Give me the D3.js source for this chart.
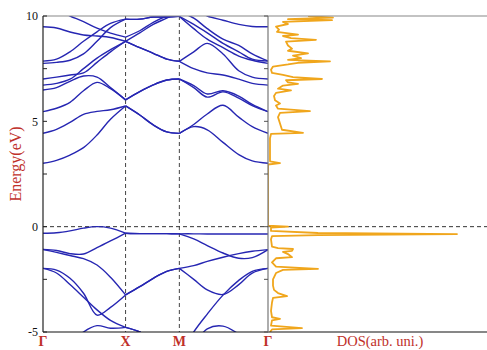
<!DOCTYPE html>
<html><head><meta charset="utf-8">
<script src="https://cdn.jsdelivr.net/npm/d3@7"></script>
<style>body{margin:0;background:#fff}svg{display:block}</style>
</head><body>
<svg id="c" width="487" height="350"></svg>
<script>
// k-path sample positions (normalized path length) and high-symmetry points
const kPoints = [0, 0.06, 0.12, 0.18, 0.24, 0.30, 0.367, 0.43, 0.49, 0.55, 0.606, 0.67, 0.73, 0.80, 0.87, 0.93, 1.0];
const kSym = [0, 0.367, 0.606, 1.0];
const kLabels = ["Γ", "X", "M", "Γ"];
const energyTicks = [-5, -2.5, 0, 2.5, 5, 7.5, 10];
const energyLabels = [-5, 0, 5, 10];

// band energies (eV) at kPoints
const bandV1 = [-0.31,-0.29,-0.2,-0.07,0.0,-0.07,-0.31, -0.33,-0.33,-0.33,-0.34, -0.34,-0.35,-0.35,-0.35,-0.35,-0.35];
const bandV2 = [-1.08,-1.13,-1.28,-1.3,-1.0,-0.68,-0.31, -0.33,-0.33,-0.33,-0.34, -0.58,-0.9,-1.25,-1.5,-1.47,-1.09];
const bandV3 = [-1.08,-1.22,-1.37,-1.52,-1.82,-2.4,-3.24, -2.85,-2.45,-2.12,-1.98, -1.85,-1.65,-1.45,-1.28,-1.17,-1.09];
const bandV4 = [-1.98,-2.06,-2.45,-3.16,-4.2,-3.83,-3.24, -2.85,-2.45,-2.12,-1.98, -2.5,-3.0,-3.22,-2.75,-2.2,-1.98];
const bandV5 = [-1.98,-2.2,-2.75,-3.35,-3.95,-4.45,-4.78, -5.0,-5.4,-5.8,-6.2, -5.0,-4.15,-3.25,-2.55,-2.12,-1.98];
const bandV6 = [-7.0,-6.5,-5.6,-5.0,-4.7,-4.82,-4.78, -5.0,-5.4,-5.8,-6.2, -5.6,-4.85,-4.72,-5.1,-5.6,-6.2];
const bandC1 = [3.01,3.15,3.4,3.75,4.35,5.1,5.73, 5.3,4.83,4.5,4.43, 4.75,4.6,4.0,3.42,3.12,3.01];
const bandC2 = [4.43,4.62,4.95,5.33,5.47,5.55,5.73, 5.3,4.83,4.5,4.43, 4.85,5.35,5.76,5.2,4.75,4.43];
const bandC3 = [5.46,5.62,5.9,6.45,6.85,6.55,6.02, 6.41,6.73,6.96,7.01, 6.6,6.15,6.4,6.1,5.75,5.46];
const bandC4 = [6.49,6.6,6.9,7.15,7.1,6.6,6.02, 6.41,6.73,6.96,7.01, 6.7,6.3,6.45,6.2,5.8,5.46];
const bandC5 = [6.72,6.8,7.0,7.5,8.0,8.4,8.8, 8.5,8.23,7.95,7.85, 8.3,8.7,8.2,7.4,7.1,7.01];
const bandC6 = [7.01,7.1,7.2,7.3,7.8,8.3,8.8, 8.5,8.23,7.95,7.85, 7.5,7.3,7.2,7.0,6.8,6.72];
const bandC7 = [7.75,7.8,7.9,8.2,8.8,9.45,9.85, 9.85,9.95,9.95,9.98, 9.4,8.9,8.5,8.1,7.9,7.75];
const bandC8 = [7.86,7.95,8.3,8.8,9.25,9.65,9.85, 9.85,9.95,9.95,9.98, 9.6,9.2,8.7,8.3,7.95,7.86];
const bandC9 = [9.49,9.43,9.24,9.1,9.05,8.98,8.8, 9.2,9.6,9.9,10.2, 9.9,9.4,8.9,8.6,8.2,7.86];
const bandC10 = [10.6,10.3,10.0,9.73,9.42,9.19,9.0, 9.3,9.7,10.0,10.2, 10.3,10.0,9.8,9.6,9.5,9.49];
const bands = [bandV1,bandV2,bandV3,bandV4,bandV5,bandV6,bandC1,bandC2,bandC3,bandC4,bandC5,bandC6,bandC7,bandC8,bandC9,bandC10];

// density of states: [energy (eV), DOS (arb. units)]
const dosCurve = [
 [10.0,4.0],[9.92,6.5],[9.85,2.0],[9.8,6.4],[9.72,1.5],[9.62,2.0],[9.5,0.8],[9.35,1.1],[9.25,0.9],
 [9.12,3.0],[9.05,1.5],[8.95,2.3],[8.87,4.8],[8.78,1.8],[8.6,2.0],[8.45,2.4],[8.35,2.0],[8.23,4.0],
 [8.12,2.5],[8.0,3.3],[7.92,2.0],[7.85,6.2],[7.78,3.0],[7.7,2.0],[7.6,0.5],[7.45,0.3],[7.3,0.4],
 [7.2,1.5],[7.1,2.5],[7.01,5.4],[6.95,1.8],[6.85,2.0],[6.78,3.0],[6.7,1.5],[6.55,1.0],[6.47,2.3],
 [6.35,0.8],[6.2,0.6],[6.0,0.7],[5.85,1.2],[5.75,0.8],[5.6,1.0],[5.48,4.2],[5.4,1.2],[5.2,1.0],
 [4.9,1.2],[4.6,1.4],[4.45,3.5],[4.4,0.3],[4.2,0.2],[3.5,0.2],[3.1,0.2],[3.02,1.2],[2.95,0],
 [0.05,0],[0.0,2.0],[-0.05,0.3],[-0.2,0.3],[-0.3,5.0],[-0.35,18.9],[-0.4,5.0],[-0.45,0.4],
 [-0.6,0.3],[-0.95,0.4],[-1.02,1.0],[-1.06,2.5],[-1.15,2.4],[-1.2,1.5],[-1.3,2.0],[-1.45,2.4],
 [-1.5,0.8],[-1.7,0.4],[-1.9,0.8],[-2.0,5.0],[-2.05,1.5],[-2.2,0.8],[-2.5,0.5],[-2.8,0.5],
 [-3.0,0.6],[-3.15,1.0],[-3.3,1.9],[-3.38,0.5],[-3.6,0.4],[-4.0,0.3],[-4.3,0.4],[-4.38,1.2],
 [-4.45,0.4],[-4.7,0.3],[-4.82,3.4],[-4.88,0.4],[-5.0,0.2]
];
const dosMax = 21.9;

const svg = d3.select("#c");
const L = 43, R = 268, R2 = 487, T = 16, B = 332;
const x = d3.scaleLinear().domain([0, 1]).range([L, R]);
const y = d3.scaleLinear().domain([-5, 10]).range([B, T]);
const xd = d3.scaleLinear().domain([0, dosMax]).range([R, R2]);

const defs = svg.append("defs");
defs.append("clipPath").attr("id","cb").append("rect").attr("x",L).attr("y",T).attr("width",R-L).attr("height",B-T);
defs.append("clipPath").attr("id","cd").append("rect").attr("x",R).attr("y",T).attr("width",R2-R).attr("height",B-T);

const red = "#c0302a", blue = "#2626b2", orange = "#f0a61c";

// dashed guides
svg.append("g").selectAll("line").data(kSym.slice(1,3)).join("line")
  .attr("x1", d=>x(d)).attr("x2", d=>x(d)).attr("y1", T).attr("y2", B)
  .attr("stroke", "#444").attr("stroke-width", 1).attr("stroke-dasharray", "4,3");
svg.append("line").attr("x1", L).attr("x2", R2).attr("y1", y(0)).attr("y2", y(0))
  .attr("stroke", "#333").attr("stroke-width", 1).attr("stroke-dasharray", "4,3");

// bands, drawn segment by segment between high-symmetry points
const segs = [[0,6],[6,10],[10,16]];
const line = d3.line().x(d=>x(d[0])).y(d=>y(d[1])).curve(d3.curveCatmullRom.alpha(0.5));
const gb = svg.append("g").attr("clip-path","url(#cb)");
bands.forEach(b => {
  segs.forEach(([a,z]) => {
    const pts = [];
    for (let i=a;i<=z;i++) pts.push([kPoints[i], b[i]]);
    gb.append("path").attr("d", line(pts)).attr("fill","none")
      .attr("stroke", blue).attr("stroke-width", 1.4);
  });
});

// DOS
const dline = d3.line().x(d=>xd(d[1])).y(d=>y(d[0]));
svg.append("g").attr("clip-path","url(#cd)").append("path").attr("d", dline(dosCurve))
  .attr("fill","none").attr("stroke", orange).attr("stroke-width", 1.8).attr("stroke-linejoin","round");

// frame
svg.append("line").attr("x1",L).attr("x2",R2).attr("y1",T).attr("y2",T).attr("stroke","#888").attr("stroke-width",1.2);
svg.append("line").attr("x1",L).attr("x2",R2).attr("y1",B).attr("y2",B).attr("stroke","#111").attr("stroke-width",1.2);
svg.append("line").attr("x1",L).attr("x2",L).attr("y1",T).attr("y2",B).attr("stroke","#222").attr("stroke-width",1.2);
svg.append("line").attr("x1",R).attr("x2",R).attr("y1",T).attr("y2",B).attr("stroke","#777").attr("stroke-width",1.2);

// ticks
const gt = svg.append("g");
gt.selectAll("line.l").data(energyTicks).join("line").attr("class","l")
  .attr("x1",L).attr("x2",L+4).attr("y1",d=>y(d)).attr("y2",d=>y(d)).attr("stroke","#222");
gt.selectAll("line.r").data(energyTicks).join("line").attr("class","r")
  .attr("x1",R-4).attr("x2",R).attr("y1",d=>y(d)).attr("y2",d=>y(d)).attr("stroke","#555");
gt.selectAll("text").data(energyLabels).join("text")
  .attr("x", L-5).attr("y", d=>y(d)).attr("dy","0.35em").attr("text-anchor","end")
  .attr("font-family","Liberation Serif, serif").attr("font-size",12).attr("fill","#111")
  .text(d=>d);

// k labels
svg.append("g").selectAll("text").data(kSym).join("text")
  .attr("x", d=>x(d)).attr("y", 346).attr("text-anchor","middle")
  .attr("font-family","Liberation Serif, serif").attr("font-size",14).attr("font-weight","bold").attr("fill",red)
  .text((d,i)=>kLabels[i]);
svg.append("text").attr("x", 380).attr("y", 346).attr("text-anchor","middle")
  .attr("font-family","Liberation Serif, serif").attr("font-size",14.5).attr("fill",red)
  .text("DOS(arb. uni.)");
svg.append("text").attr("transform","translate(21,164) rotate(-90)").attr("text-anchor","middle")
  .attr("font-family","Liberation Serif, serif").attr("font-size",16).attr("fill",red)
  .text("Energy(eV)");
</script>
</body></html>
